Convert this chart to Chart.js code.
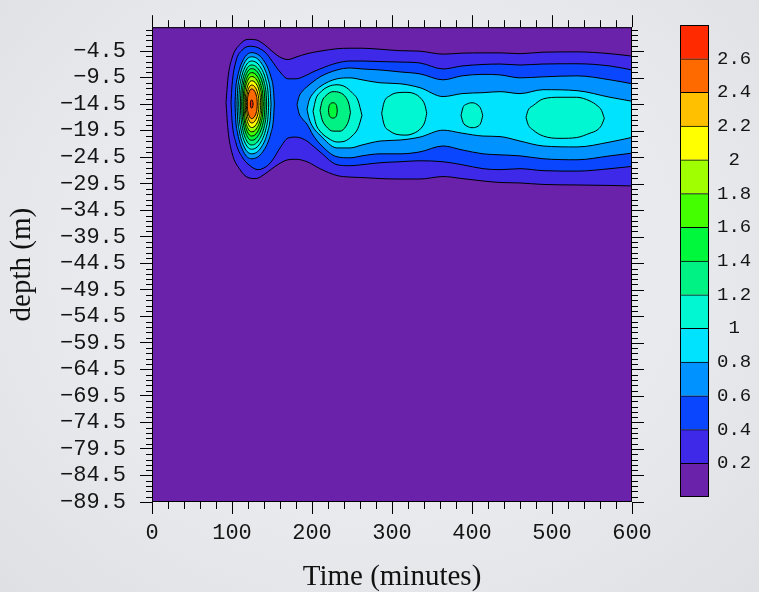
<!DOCTYPE html>
<html>
<head>
<meta charset="utf-8">
<script src="https://cdn.jsdelivr.net/npm/chart.js@4.4.1/dist/chart.umd.min.js"></script>
<style>
  html, body { margin: 0; padding: 0; }
  #wrap { position: relative; width: 759px; height: 592px; overflow: hidden;
    background: radial-gradient(ellipse at 50% 45%, #eeeff2 0%, #e8e9ed 60%, #dfe0e4 100%); }
  canvas { position: absolute; left: 0; top: 0; }
</style>
</head>
<body>
<div id="wrap">
  <canvas id="main" width="759" height="592"></canvas>
  <canvas id="bar" width="759" height="592"></canvas>
</div>
<script>
// ---------- axes / levels ----------
const xTicks = [0, 100, 200, 300, 400, 500, 600];
const yTicks = [-4.5, -9.5, -14.5, -19.5, -24.5, -29.5, -34.5, -39.5, -44.5, -49.5, -54.5, -59.5, -64.5, -69.5, -74.5, -79.5, -84.5, -89.5];
const yTickLabels = ['\u22124.5', '\u22129.5', '\u221214.5', '\u221219.5', '\u221224.5', '\u221229.5', '\u221234.5', '\u221239.5', '\u221244.5', '\u221249.5', '\u221254.5', '\u221259.5', '\u221264.5', '\u221269.5', '\u221274.5', '\u221279.5', '\u221284.5', '\u221289.5'];
const levels = [0.2, 0.4, 0.6, 0.8, 1.0, 1.2, 1.4, 1.6, 1.8, 2.0, 2.2, 2.4, 2.6];
const levelLabels = ['0.2', '0.4', '0.6', '0.8', '1', '1.2', '1.4', '1.6', '1.8', '2', '2.2', '2.4', '2.6'];
const bandColors = ['#6a22aa', '#3d29e7', '#0b46ff', '#0092ff', '#00e3ff', '#00f7d2', '#00f184', '#00f83c', '#44ff00', '#a0ff00', '#ffff00', '#ffc000', '#ff6a00', '#ff2a00'];

// ---------- contours: time (min), upper depth, lower depth ----------
// level 0.2
const c02_t   = [92.5, 95, 100, 110, 120, 130, 140, 150, 160, 170, 180, 193.8, 210, 231.3, 247.5, 262.5, 285, 310, 335, 363.8, 387.5, 413.8, 435, 460, 488.8, 531.3, 572.5, 600];
const c02_top = [-14.2, -9.55, -5.82, -3.22, -2.29, -2.38, -3.22, -4.52, -5.64, -6.10, -5.64, -4.99, -4.52, -4.06, -3.96, -3.96, -4.15, -4.43, -4.52, -5.08, -4.89, -4.84, -4.84, -4.99, -4.71, -4.65, -4.99, -5.45];
const c02_bot = [-14.2, -19.41, -23.69, -26.85, -28.34, -28.53, -27.78, -26.67, -25.64, -24.99, -24.90, -25.36, -26.67, -27.97, -28.25, -28.34, -28.53, -28.62, -28.62, -28.15, -28.53, -28.99, -29.27, -29.36, -29.64, -29.74, -29.83, -29.92];
// level 0.4
const c04_t   = [98.8, 100, 105, 112.5, 122.5, 132.5, 142.5, 150, 160, 170, 180, 193.8, 201.3, 210, 231.3, 247.5, 262.5, 285, 310, 335, 363.8, 387.5, 413.8, 435, 460, 488.8, 531.3, 572.5, 600];
const c04_top = [-14.2, -11.03, -6.38, -4.34, -3.59, -3.87, -4.89, -6.38, -8.43, -9.73, -9.73, -8.99, -8.43, -7.87, -6.75, -6.38, -6.38, -6.48, -6.57, -6.75, -7.87, -7.31, -7.03, -6.94, -7.13, -6.94, -6.89, -7.31, -8.06];
const c04_bot = [-14.2, -17.55, -21.83, -24.43, -26.11, -26.85, -26.29, -25.18, -22.76, -20.90, -20.71, -21.46, -22.39, -23.50, -25.92, -26.11, -25.92, -25.55, -25.36, -25.18, -25.36, -25.92, -26.67, -26.85, -26.67, -27.04, -27.13, -26.67, -26.24];
// level 0.6 (peak and right region)
const p06_t   = [103.8, 104.6, 106.9, 114.2, 124.6, 138.8, 148.7, 151.8, 152.9];
const p06_top = [-14.48, -11.77, -9.38, -6.10, -4.80, -6.10, -9.38, -11.77, -14.48];
const p06_bot = [-14.48, -17.37, -19.92, -23.42, -24.80, -23.42, -19.92, -17.37, -14.48];
const r06_t   = [181.3, 183.8, 187.5, 193.8, 201.3, 210, 231.3, 247.5, 262.5, 285, 310, 335, 363.8, 387.5, 413.8, 435, 460, 488.8, 531.3, 572.5, 600];
const r06_top = [-14.57, -13.08, -12.15, -11.22, -10.29, -9.36, -8.06, -7.69, -7.87, -8.06, -8.43, -8.80, -9.92, -9.17, -8.89, -8.99, -9.55, -9.36, -9.17, -9.92, -10.66];
const r06_bot = [-14.57, -16.24, -17.18, -18.29, -20.34, -22.01, -24.43, -24.62, -24.25, -23.87, -23.87, -23.50, -22.39, -23.13, -23.87, -24.06, -24.25, -24.80, -24.99, -24.25, -23.74];
// level 0.8
const p08_t   = [106.3, 107.0, 109.0, 115.4, 124.6, 136.7, 145.1, 147.8, 148.8];
const p08_top = [-14.48, -11.99, -9.79, -6.77, -5.58, -6.77, -9.79, -11.99, -14.48];
const p08_bot = [-14.48, -17.11, -19.43, -22.61, -23.87, -22.61, -19.43, -17.11, -14.48];
const r08_t   = [193.8, 196.3, 201.3, 210, 231.3, 247.5, 262.5, 285, 310, 335, 363.8, 387.5, 413.8, 435, 460, 488.8, 531.3, 572.5, 600];
const r08_top = [-15.50, -13.83, -12.52, -11.22, -9.73, -9.55, -9.92, -10.48, -10.66, -11.41, -13.08, -12.52, -12.34, -12.15, -12.52, -11.78, -11.96, -13.21, -13.96];
const r08_bot = [-15.50, -17.18, -18.85, -20.34, -22.76, -22.76, -22.20, -21.46, -21.27, -20.71, -19.41, -19.97, -20.52, -20.62, -21.46, -22.39, -22.57, -21.64, -20.77];
// level 1.0 (peak and four islands)
const p10_t   = [108.4, 109.0, 110.8, 116.5, 124.6, 135.3, 142.7, 145.0, 145.9];
const p10_top = [-14.48, -12.21, -10.21, -7.47, -6.38, -7.47, -10.21, -12.21, -14.48];
const p10_bot = [-14.48, -16.87, -18.97, -21.86, -23.00, -21.86, -18.97, -16.87, -14.48];
const i1_10_t   = [201.3, 205, 210, 220, 231.3, 241.3, 250, 257.5, 262.5];
const i1_10_top = [-15.87, -13.45, -12.34, -11.22, -10.85, -11.22, -12.34, -13.83, -16.62];
const i1_10_bot = [-15.87, -18.29, -19.59, -20.90, -21.64, -21.46, -20.52, -19.04, -16.62];
const i2_10_t   = [287.1, 290, 297.5, 307.5, 317.5, 327.5, 336.3, 341.3, 343.4];
const i2_10_top = [-16.24, -14.20, -12.90, -12.34, -12.28, -12.52, -13.45, -14.76, -16.24];
const i2_10_bot = [-16.24, -18.29, -19.59, -20.25, -20.34, -19.97, -19.04, -17.73, -16.24];
const i3_10_t   = [386.3, 388.8, 393.8, 400, 406.3, 411.3, 413.4];
const i3_10_top = [-16.62, -15.13, -14.48, -14.25, -14.57, -15.50, -16.62];
const i3_10_bot = [-16.62, -17.92, -18.66, -18.94, -18.76, -17.92, -16.62];
const i4_10_t   = [467.5, 470, 476.6, 489.1, 510, 530.9, 547.5, 556.3, 561.9, 565.4];
const i4_10_top = [-16.99, -15.69, -14.76, -13.51, -13.21, -13.21, -13.92, -14.76, -15.69, -17.18];
const i4_10_bot = [-16.99, -18.29, -19.41, -20.52, -20.95, -20.80, -19.97, -19.41, -18.48, -17.18];
// level 1.2
const p12_t   = [110.4, 111.0, 112.5, 117.5, 124.6, 134.0, 140.6, 142.6, 143.4];
const p12_top = [-14.48, -12.42, -10.61, -8.11, -7.13, -8.11, -10.61, -12.42, -14.48];
const p12_bot = [-14.48, -16.64, -18.55, -21.17, -22.20, -21.17, -18.55, -16.64, -14.48];
const i1_12_t   = [210, 212.5, 217.5, 226.3, 235, 242.5, 246.3, 248.1];
const i1_12_top = [-15.69, -14.01, -12.90, -12.15, -12.34, -13.27, -14.57, -16.06];
const i1_12_bot = [-15.69, -17.36, -18.66, -19.59, -19.59, -18.66, -17.36, -16.06];
// level 1.4
const p14_t   = [112.1, 112.6, 114.0, 118.4, 124.6, 132.9, 138.8, 140.6, 141.3];
const p14_top = [-14.48, -12.61, -10.96, -8.70, -7.81, -8.70, -10.96, -12.61, -14.48];
const p14_bot = [-14.48, -16.40, -18.08, -20.40, -21.32, -20.40, -18.08, -16.40, -14.48];
const i1_14_t   = [220.6, 221.2, 223.0, 226.2, 229.4, 231.0, 231.6];
const i1_14_top = [-15.69, -15.0, -14.45, -14.25, -14.45, -15.0, -15.69];
const i1_14_bot = [-15.69, -16.4, -16.95, -17.12, -16.95, -16.4, -15.69];
// levels 1.6 - 2.6 (peak only)
const p16_t   = [113.8, 114.2, 115.4, 119.2, 124.6, 131.9, 136.9, 138.5, 139.1];
const p16_top = [-14.48, -12.82, -11.36, -9.35, -8.56, -9.35, -11.36, -12.82, -14.48];
const p16_bot = [-14.48, -16.17, -17.66, -19.71, -20.52, -19.71, -17.66, -16.17, -14.48];
const p18_t   = [115.0, 115.4, 116.4, 119.8, 124.6, 131.1, 135.6, 137.0, 137.5];
const p18_top = [-14.48, -13.03, -11.75, -9.99, -9.30, -9.99, -11.75, -13.03, -14.48];
const p18_bot = [-14.48, -15.95, -17.24, -19.02, -19.72, -19.02, -17.24, -15.95, -14.48];
const p20_t   = [116.6, 116.9, 117.8, 120.6, 124.6, 130.3, 134.2, 135.4, 135.9];
const p20_top = [-14.48, -13.25, -12.17, -10.69, -10.10, -10.69, -12.17, -13.25, -14.48];
const p20_bot = [-14.48, -15.72, -16.81, -18.32, -18.91, -18.32, -16.81, -15.72, -14.48];
const p22_t   = [117.9, 118.2, 118.9, 121.3, 124.6, 129.2, 132.4, 133.4, 133.8];
const p22_top = [-14.48, -13.48, -12.59, -11.38, -10.90, -11.38, -12.59, -13.48, -14.48];
const p22_bot = [-14.48, -15.48, -16.36, -17.57, -18.05, -17.57, -16.36, -15.48, -14.48];
const p24_t   = [119.1, 119.3, 119.9, 121.9, 124.6, 128.1, 130.6, 131.3, 131.6];
const p24_top = [-14.48, -13.69, -12.99, -12.03, -11.65, -12.03, -12.99, -13.69, -14.48];
const p24_bot = [-14.48, -15.25, -15.93, -16.86, -17.23, -16.86, -15.93, -15.25, -14.48];
const p26_t   = [122.9, 123.0, 123.2, 123.8, 124.6, 125.4, 126.0, 126.2, 126.3];
const p26_top = [-14.48, -14.26, -14.07, -13.80, -13.70, -13.80, -14.07, -14.26, -14.48];
const p26_bot = [-14.48, -14.70, -14.89, -15.16, -15.26, -15.16, -14.89, -14.70, -14.48];

const contours = [
  [0.2, c02_t, c02_top, c02_bot],
  [0.4, c04_t, c04_top, c04_bot],
  [0.6, p06_t, p06_top, p06_bot], [0.6, r06_t, r06_top, r06_bot],
  [0.8, p08_t, p08_top, p08_bot], [0.8, r08_t, r08_top, r08_bot],
  [1.0, p10_t, p10_top, p10_bot], [1.0, i1_10_t, i1_10_top, i1_10_bot], [1.0, i2_10_t, i2_10_top, i2_10_bot],
  [1.0, i3_10_t, i3_10_top, i3_10_bot], [1.0, i4_10_t, i4_10_top, i4_10_bot],
  [1.2, p12_t, p12_top, p12_bot], [1.2, i1_12_t, i1_12_top, i1_12_bot],
  [1.4, p14_t, p14_top, p14_bot], [1.4, i1_14_t, i1_14_top, i1_14_bot],
  [1.6, p16_t, p16_top, p16_bot], [1.8, p18_t, p18_top, p18_bot], [2.0, p20_t, p20_top, p20_bot],
  [2.2, p22_t, p22_top, p22_bot], [2.4, p24_t, p24_top, p24_bot], [2.6, p26_t, p26_top, p26_bot]
];

// ---------- build datasets ----------
const datasets = [];
contours.forEach(([lvl, t, top, bot]) => {
  const k = levels.indexOf(lvl) + 1;
  const common = { borderColor: '#000', borderWidth: 1, pointRadius: 0, order: 100 - k,
                   cubicInterpolationMode: 'monotone' };
  datasets.push(Object.assign({ data: t.map((x, i) => ({ x, y: top[i] })), fill: false }, common));
  datasets.push(Object.assign({ data: t.map((x, i) => ({ x, y: bot[i] })), fill: '-1',
                                backgroundColor: bandColors[k] }, common));
});

const FONT_TICK = { family: 'Liberation Mono', size: 22 };
const FONT_TITLE = { family: 'Liberation Serif', size: 29, lineHeight: 1 };

const plotDecor = {
  id: 'plotDecor',
  beforeDatasetsDraw(chart) {
    const { ctx, chartArea: a } = chart;
    ctx.save();
    ctx.fillStyle = bandColors[0];
    ctx.fillRect(a.left, a.top, a.right - a.left, a.bottom - a.top);
    ctx.restore();
  },
  afterDraw(chart) {
    const { ctx, chartArea: a, scales: { x, y } } = chart;
    ctx.save();
    ctx.strokeStyle = '#000';
    ctx.lineWidth = 1;
    ctx.beginPath();
    for (let v = 0; v <= 600; v += 20) {
      const px = Math.round(x.getPixelForValue(v)) + 0.5;
      const major = v % 100 === 0;
      ctx.moveTo(px, a.top); ctx.lineTo(px, a.top - (major ? 12 : 7));
      if (!major) { ctx.moveTo(px, a.bottom); ctx.lineTo(px, a.bottom + 7); }
    }
    for (let v = -89.5; v <= -0.5; v += 1) {
      const py = Math.round(y.getPixelForValue(v)) + 0.5;
      const major = yTicks.includes(v);
      ctx.moveTo(a.right, py); ctx.lineTo(a.right + (major ? 12 : 6), py);
      if (!major) { ctx.moveTo(a.left, py); ctx.lineTo(a.left - 6, py); }
    }
    ctx.stroke();
    ctx.strokeRect(a.left + 0.5, a.top + 0.5, a.right - a.left - 1, a.bottom - a.top - 1);
    ctx.restore();
  }
};

new Chart(document.getElementById('main'), {
  type: 'line',
  data: { datasets },
  plugins: [plotDecor],
  options: {
    responsive: false, animation: false, events: [],
    layout: { padding: { left: 0, top: 21, right: 127, bottom: 0 } },
    plugins: { legend: { display: false }, tooltip: { enabled: false }, filler: { propagate: false } },
    scales: {
      x: {
        type: 'linear', min: 0, max: 600, position: 'bottom',
        afterBuildTicks: s => { s.ticks = xTicks.map(v => ({ value: v })); },
        afterFit: s => { s.height = 90; },
        grid: { display: true, drawOnChartArea: false, drawTicks: true, tickLength: 12, tickColor: '#000', tickWidth: 1 },
        border: { display: false },
        ticks: { font: FONT_TICK, color: '#151515', padding: 6, maxRotation: 0, autoSkip: false,
                 callback: (v, i) => String(xTicks[i]) },
        title: { display: true, text: 'Time (minutes)', font: FONT_TITLE, color: '#111', padding: { top: 0, bottom: 0 } }
      },
      y: {
        type: 'linear', min: -89.5, max: 0, position: 'left',
        afterBuildTicks: s => { s.ticks = yTicks.map(v => ({ value: v })); },
        afterFit: s => { s.width = 152; },
        grid: { display: true, drawOnChartArea: false, drawTicks: true, tickLength: 12, tickColor: '#000', tickWidth: 1 },
        border: { display: false },
        ticks: { font: FONT_TICK, color: '#151515', padding: 14, autoSkip: false,
                 callback: (v, i) => yTickLabels[i] },
        title: { display: true, text: 'depth (m)', font: { family: 'Liberation Serif', size: 29, lineHeight: 1.2 },
                 color: '#111', padding: { top: 5, bottom: 0 } }
      }
    }
  }
});

// ---------- colour bar ----------
const bandLow = [0].concat(levels);
const bandHigh = levels.concat([2.8]);
const barFrame = {
  id: 'barFrame',
  afterDatasetsDraw(chart) {
    const { ctx, chartArea: a } = chart;
    ctx.save();
    ctx.strokeStyle = '#000'; ctx.lineWidth = 1;
    ctx.strokeRect(a.left + 0.5, a.top + 0.5, a.right - a.left - 1, a.bottom - a.top - 1);
    ctx.restore();
  }
};
new Chart(document.getElementById('bar'), {
  type: 'bar',
  data: {
    labels: [''],
    datasets: bandColors.map((c, i) => ({
      data: [[bandLow[i], bandHigh[i]]], backgroundColor: c, borderColor: '#000',
      borderWidth: { top: 1, bottom: 0, left: 0, right: 0 }, borderSkipped: false,
      barPercentage: 1, categoryPercentage: 1, grouped: false
    }))
  },
  plugins: [barFrame],
  options: {
    responsive: false, animation: false, events: [],
    layout: { padding: { left: 680, top: 25, right: 0, bottom: 95 } },
    plugins: { legend: { display: false }, tooltip: { enabled: false } },
    scales: {
      x: { display: false },
      y: {
        position: 'right', min: 0, max: 2.8,
        afterBuildTicks: s => { s.ticks = levels.map(v => ({ value: v })); },
        afterFit: s => { s.width = 50; },
        grid: { display: false, drawTicks: false },
        border: { display: false },
        ticks: { font: { family: 'Liberation Mono', size: 19 }, color: '#151515', crossAlign: 'center', padding: 8,
                 autoSkip: false, callback: (v, i) => levelLabels[i] }
      }
    }
  }
});
</script>
</body>
</html>
